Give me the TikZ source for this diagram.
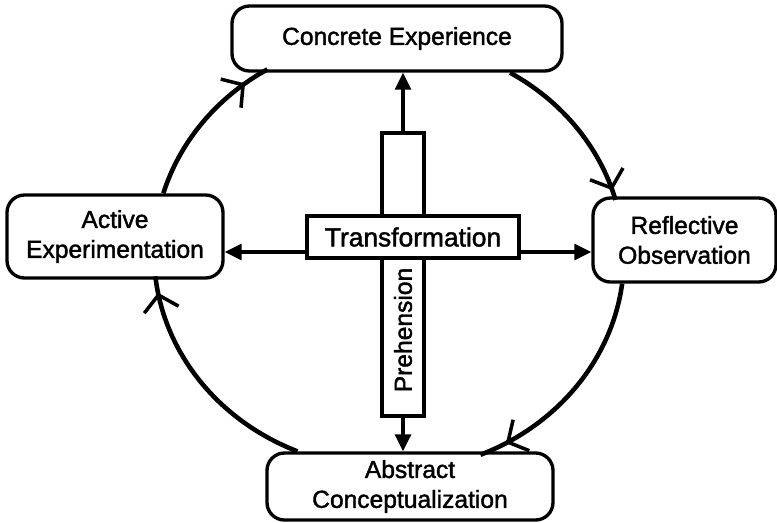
\documentclass[tikz,border=0pt]{standalone}
\usepackage{fontspec}
\setmainfont{Liberation Sans}[AutoFakeBold=1.6]
\usetikzlibrary{arrows.meta,decorations.markings}
\tikzset{
  stage/.style = {draw, line width=1.9pt, rounded corners=0.35cm, fill=white, align=center, inner sep=0pt},
  core/.style  = {draw, line width=1.8pt, fill=white, inner sep=0pt},
  push/.style  = {line width=1.8pt, -{Triangle[length=3.4mm,width=3.2mm]}},
  cyc/.style   = {line width=2.6pt,
                  decoration={markings, mark=at position #1 with {\arrow[line width=2pt]{Straight Barb[length=3mm,width=7mm]}}},
                  postaction=decorate},
  ring/.style  = {x radius=4.7cm, y radius=4.3cm},
}

\begin{document}
\begin{tikzpicture}[every node/.style={font=\fontsize{14}{17}\selectfont\bfseries}]
\useasboundingbox (-7.78,-5.34) rectangle (7.76,5.10);

% the four stages
\node[stage, minimum width=6.6cm,  minimum height=1.3cm]  (ce) at (0.16,4.33)  {Concrete Experience};
\node[stage, minimum width=4.32cm, minimum height=1.66cm] (ae) at (-5.48,0.37) {Active\\Experimentation};
\node[stage, minimum width=3.66cm, minimum height=1.68cm] (ro) at (5.91,0.30)  {Reflective\\Observation};
\node[stage, minimum width=5.72cm, minimum height=1.34cm] (ac) at (0.42,-4.63) {Abstract\\Conceptualization};

% the two axes
\node[core, minimum width=0.84cm, minimum height=5.66cm] (pr) at (0.28,-0.39) {};
\node[rotate=90] (prl) at (0.28,-1.5) {Prehension};
\node[core, minimum width=4.24cm, minimum height=0.84cm, font=\fontsize{15}{18}\selectfont\bfseries] (tr) at (0.48,0.36) {Transformation};

\coordinate (axis) at (0,0.06);
\draw[push] (pr.north) -- (ce.south -| pr.north);
\draw[push] (pr.south) -- (ac.north -| pr.south);
\draw[push] (tr.west |- axis) -- (ae.east |- axis);
\draw[push] (tr.east |- axis) -- (ro.west |- axis);

% the cycle
\draw[cyc=0.94] ([xshift=2.26cm]ce.south)   arc[ring, start angle=59,      end angle=15.4];
\draw[cyc=0.88] ([xshift=-1.247cm]ro.south) arc[ring, start angle=-7.2,    end angle=-67.1];
\draw[cyc=0.93] ([xshift=-2.251cm]ac.north) arc[ring, start angle=-112.93, end angle=-173.86];
\draw[cyc=0.84] ([xshift=0.967cm]ae.north)  arc[ring, start angle=163.8,   end angle=121.15];
\end{tikzpicture}
\end{document}
